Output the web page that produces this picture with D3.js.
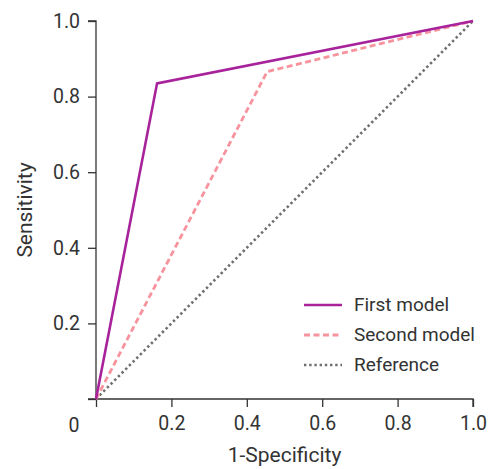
<!DOCTYPE html>
<html>
<head>
<meta charset="utf-8">
<script src="https://cdn.jsdelivr.net/npm/d3@7"></script>
<style>
  html, body { margin: 0; padding: 0; background: #fff; }
  svg text { font-family: Roboto, sans-serif; fill: #333; }
</style>
</head>
<body>
<svg id="chart" width="488" height="469"></svg>
<script>
// ROC points
var firstX  = [0, 0.162, 1];
var firstY  = [0, 0.835, 1];
var secondX = [0, 0.454, 1];
var secondY = [0, 0.866, 1];
var refX    = [0, 1];
var refY    = [0, 1];
var tickVals = [0.2, 0.4, 0.6, 0.8, 1.0];
var seriesNames = ["First model", "Second model", "Reference"];

var svg = d3.select("#chart");
var x = d3.scaleLinear().domain([0, 1]).range([96, 473]);
var y = d3.scaleLinear().domain([0, 1]).range([399, 21]);

function pts(xs, ys) {
    return xs.map(function(v, i) { return [v, ys[i]]; });
}

// axes
var xAxis = svg.append("g")
    .attr("transform", "translate(0," + y(0) + ")")
    .call(d3.axisBottom(x).tickValues([0].concat(tickVals)).tickSize(8).tickPadding(9)
          .tickFormat(function(d) { return d === 0 ? "" : d3.format(".1f")(d); }));
var yAxis = svg.append("g")
    .attr("transform", "translate(" + x(0) + ",0)")
    .call(d3.axisLeft(y).tickValues([0].concat(tickVals)).tickSize(8).tickPadding(8)
          .tickFormat(function(d) { return d === 0 ? "" : d3.format(".1f")(d); }));

[xAxis, yAxis].forEach(function(g) {
    g.select(".domain").attr("stroke", "#333").attr("stroke-width", 1.3);
    g.selectAll(".tick line").attr("stroke", "#333").attr("stroke-width", 1.3);
    g.selectAll(".tick text").style("font-size", "19.5px").attr("fill", "#333");
});
// x domain reaches left to meet the y=0 tick
xAxis.select(".domain").attr("d", "M" + (x(0) - 8) + ",0H" + x(1) + "V8");
yAxis.select(".domain").attr("d", "M-8," + y(1) + "H0V" + y(0));

// shared origin label
svg.append("text")
    .attr("x", 74).attr("y", 431.5)
    .attr("text-anchor", "middle")
    .style("font-size", "19.5px")
    .text("0");

// axis titles
svg.append("text")
    .attr("x", (x(0) + x(1)) / 2).attr("y", 462)
    .attr("text-anchor", "middle")
    .style("font-size", "21px")
    .text("1-Specificity");
svg.append("text")
    .attr("transform", "translate(32," + (y(0) + y(1)) / 2 + ") rotate(-90)")
    .attr("text-anchor", "middle")
    .style("font-size", "21px")
    .text("Sensitivity");

var line = d3.line().x(function(d) { return x(d[0]); }).y(function(d) { return y(d[1]); });

var styles = [
    { color: "#6e6e6e", width: 2.6, dash: "2.4,2.8", data: pts(refX, refY) },
    { color: "#f7939d", width: 2.8, dash: "6,3.5", data: pts(secondX, secondY) },
    { color: "#a8239b", width: 2.6, dash: null, data: pts(firstX, firstY) }
];

styles.forEach(function(s) {
    svg.append("path")
        .datum(s.data)
        .attr("d", line)
        .attr("fill", "none")
        .attr("stroke", s.color)
        .attr("stroke-width", s.width)
        .attr("stroke-dasharray", s.dash);
});

// legend
var legendStyles = [styles[2], styles[1], styles[0]];
var legend = svg.append("g");
seriesNames.forEach(function(name, i) {
    var yy = 305 + i * 30;
    legend.append("line")
        .attr("x1", 304).attr("x2", 342)
        .attr("y1", yy).attr("y2", yy)
        .attr("stroke", legendStyles[i].color)
        .attr("stroke-width", legendStyles[i].width)
        .attr("stroke-dasharray", legendStyles[i].dash);
    legend.append("text")
        .attr("x", 354).attr("y", yy + 6)
        .style("font-size", "19px")
        .text(name);
});
</script>
</body>
</html>
